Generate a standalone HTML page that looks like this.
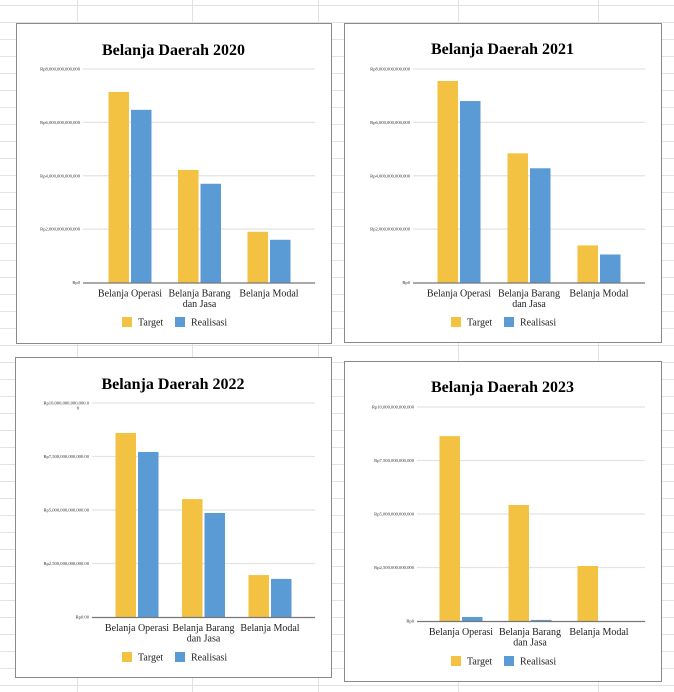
<!DOCTYPE html>
<html><head><meta charset="utf-8">
<style>
html,body{margin:0;padding:0;background:#fff;}
svg{display:block;font-family:"Liberation Serif",serif;}
</style></head>
<body>
<svg id="root" width="674" height="692" viewBox="0 0 674 692" xmlns="http://www.w3.org/2000/svg"></svg>
<script>
const categories = ["Belanja Operasi", "Belanja Barang|dan Jasa", "Belanja Modal"];
const seriesNames = ["Target", "Realisasi"];
const target2020 = [7.14, 4.22, 1.9];
const real2020 = [6.47, 3.7, 1.6];
const ticks2020 = ["Rp0", "Rp2,000,000,000,000", "Rp4,000,000,000,000", "Rp6,000,000,000,000", "Rp8,000,000,000,000"];
const target2021 = [7.55, 4.84, 1.39];
const real2021 = [6.8, 4.28, 1.05];
const ticks2021 = ["Rp0", "Rp2,000,000,000,000", "Rp4,000,000,000,000", "Rp6,000,000,000,000", "Rp8,000,000,000,000"];
const target2022 = [8.6, 5.51, 1.96];
const real2022 = [7.71, 4.86, 1.78];
const ticks2022 = ["Rp0.00", "Rp2,500,000,000,000.00", "Rp5,000,000,000,000.00", "Rp7,500,000,000,000.00", "Rp10,000,000,000,000.0|0"];
const target2023 = [8.64, 5.42, 2.57];
const real2023 = [0.19, 0.05, 0];
const ticks2023 = ["Rp0", "Rp2,500,000,000,000", "Rp5,000,000,000,000", "Rp7,500,000,000,000", "Rp10,000,000,000,000"];

const NS = "http://www.w3.org/2000/svg";
const root = document.getElementById('root');
function mk(tag, attrs, parent, text){
  const e = document.createElementNS(NS, tag);
  for (const k in attrs) e.setAttribute(k, attrs[k]);
  if (text !== undefined) e.textContent = text;
  (parent||root).appendChild(e);
  return e;
}
const grid = mk('g', {});


for (let y = 5; y < 692; y += 17) mk('line', {x1:0, x2:674, y1:y+0.5, y2:y+0.5, stroke:'#e2e2e2', 'stroke-width':1}, grid);
[77, 192, 318, 458, 598].forEach(x => mk('line', {x1:x+0.5, x2:x+0.5, y1:0, y2:692, stroke:'#e2e2e2', 'stroke-width':1}, grid));

function drawChart(cfg){
  const g = mk('g', {});
  
  
  mk('rect', {x:cfg.box[0]+0.5, y:cfg.box[1]+0.5, width:cfg.box[2]-cfg.box[0], height:cfg.box[3]-cfg.box[1], fill:'#fff', stroke:'#8a8a8a', 'stroke-width':1}, g);
  const title = mk('text', {x:(cfg.box[0]+cfg.box[2])/2, y:cfg.titleY, 'text-anchor':'middle', 'font-size':16, 'font-weight':'bold', fill:'#000'}, g, cfg.title);
  
  
  const L = cfg.left, R = cfg.right, Y0 = cfg.zeroY, Ytop = cfg.topY;
  const n = cfg.ticks.length - 1;
  const yScale = v => Y0 - (v / cfg.max) * (Y0 - Ytop);
  cfg.ticks.forEach((t, i) => {
    const v = cfg.max * i / n;
    const y = yScale(v);
    if (i > 0) mk('line', {x1:L, x2:R, y1:y, y2:y, stroke:'#e3e3e3', 'stroke-width':1.2}, g);
    const parts = t.split('|');
    const lab = mk('text', {x:L-3, y:y+1.5, 'text-anchor':'end', 'font-size':4.6, fill:'#333'}, g, parts[0]);
    
    
    if (parts[1]) mk('text', {x:L-14, y:y+6.5, 'text-anchor':'middle', 'font-size':4.6, fill:'#333'}, g, parts[1]);
  });
  const xCenter = i => cfg.firstX + cfg.step * i;
  const colors = ['#f4c242', '#5b9bd5'];
  [cfg.target, cfg.real].forEach((arr, s) => {
    arr.forEach((v, i) => {
      const x = xCenter(i) + (s === 0 ? -21.5 : 1);
      const y = yScale(v);
      const b = mk('rect', {x:x, y:y, width:20.5, height:Math.max(0, Y0 - y), fill:colors[s]}, g);
      
      
    });
  });
  mk('line', {x1:L, x2:R, y1:Y0+0.5, y2:Y0+0.5, stroke:'#777', 'stroke-width':1.2}, g);
  categories.forEach((c, i) => {
    c.split('|').forEach((p, j) => {
      const t = mk('text', {x:xCenter(i), y:Y0+14+j*10.5, 'text-anchor':'middle', 'font-size':10, fill:'#222'}, g, p);
      
      
    });
  });
  const lx = cfg.legendX, ly = cfg.legendY;
  const le1 = mk('g', {}, g);
  
  
  mk('rect', {x:lx, y:ly-5, width:10, height:10, fill:colors[0]}, le1);
  mk('text', {x:lx+16, y:ly+3.5, 'font-size':10, fill:'#222'}, le1, seriesNames[0]);
  const le2 = mk('g', {}, g);
  
  
  mk('rect', {x:lx+53, y:ly-5, width:10, height:10, fill:colors[1]}, le2);
  mk('text', {x:lx+69, y:ly+3.5, 'font-size':10, fill:'#222'}, le2, seriesNames[1]);
}

drawChart({name:'chart-2020', title:'Belanja Daerah 2020', box:[16,23,331,343], titleY:55, left:83, right:315, zeroY:282.5, topY:69, max:8, ticks:ticks2020, target:target2020, real:real2020, firstX:130, step:69.5, legendX:122, legendY:322});
drawChart({name:'chart-2021', title:'Belanja Daerah 2021', box:[344,23,661,342], titleY:54, left:413, right:645, zeroY:282.5, topY:69, max:8, ticks:ticks2021, target:target2021, real:real2021, firstX:459, step:70, legendX:451, legendY:322});
drawChart({name:'chart-2022', title:'Belanja Daerah 2022', box:[15,357,331,677], titleY:389, left:92, right:315, zeroY:617, topY:403, max:10, ticks:ticks2022, target:target2022, real:real2022, firstX:137, step:66.5, legendX:122, legendY:657});
drawChart({name:'chart-2023', title:'Belanja Daerah 2023', box:[344,361,661,681], titleY:392, left:417, right:645, zeroY:621, topY:407, max:10, ticks:ticks2023, target:target2023, real:real2023, firstX:461, step:69, legendX:451, legendY:661});
</script>
</body></html>
